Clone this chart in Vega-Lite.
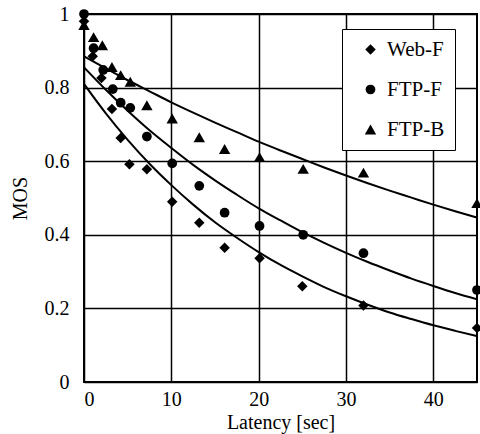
{
  "$schema": "https://vega.github.io/schema/vega-lite/v6.json",
  "autosize": {"type": "none"},
  "width": 393,
  "height": 368,
  "padding": {"left": 84, "top": 14, "right": 3, "bottom": 52},
  "background": "white",
  "config": {
    "font": "Liberation Serif",
    "view": {"stroke": "black", "strokeWidth": 2},
    "axis": {
      "grid": true,
      "gridColor": "black",
      "gridWidth": 1.5,
      "gridOpacity": 1,
      "domain": false,
      "ticks": false,
      "labelFont": "Liberation Serif",
      "labelFontSize": 20,
      "labelColor": "black",
      "titleFont": "Liberation Serif",
      "titleFontSize": 20,
      "titleFontWeight": "normal",
      "titleColor": "black"
    },
    "legend": {
      "orient": "none",
      "legendX": 258,
      "legendY": 15,
      "fillColor": "white",
      "strokeColor": "black",
      "padding": 10,
      "rowPadding": 18,
      "symbolOffset": 8,
      "labelOffset": 6,
      "labelFontSize": 21,
      "labelFont": "Liberation Serif",
      "labelColor": "black",
      "symbolFillColor": "black",
      "symbolStrokeColor": "black"
    }
  },
  "datasets": {
    "points": [
      {"latency": 0, "mos": 0.98, "series": "Web-F"},
      {"latency": 1, "mos": 0.885, "series": "Web-F"},
      {"latency": 2, "mos": 0.826, "series": "Web-F"},
      {"latency": 3.2, "mos": 0.742, "series": "Web-F"},
      {"latency": 4.2, "mos": 0.663, "series": "Web-F"},
      {"latency": 5.2, "mos": 0.592, "series": "Web-F"},
      {"latency": 7.2, "mos": 0.578, "series": "Web-F"},
      {"latency": 10.1, "mos": 0.49, "series": "Web-F"},
      {"latency": 13.2, "mos": 0.433, "series": "Web-F"},
      {"latency": 16.1, "mos": 0.365, "series": "Web-F"},
      {"latency": 20.1, "mos": 0.336, "series": "Web-F"},
      {"latency": 25, "mos": 0.26, "series": "Web-F"},
      {"latency": 32, "mos": 0.208, "series": "Web-F"},
      {"latency": 45, "mos": 0.147, "series": "Web-F"},
      {"latency": 0, "mos": 1.0, "series": "FTP-F"},
      {"latency": 1.1, "mos": 0.907, "series": "FTP-F"},
      {"latency": 2.2, "mos": 0.848, "series": "FTP-F"},
      {"latency": 3.3, "mos": 0.796, "series": "FTP-F"},
      {"latency": 4.2, "mos": 0.759, "series": "FTP-F"},
      {"latency": 5.3, "mos": 0.745, "series": "FTP-F"},
      {"latency": 7.2, "mos": 0.667, "series": "FTP-F"},
      {"latency": 10.1, "mos": 0.594, "series": "FTP-F"},
      {"latency": 13.2, "mos": 0.533, "series": "FTP-F"},
      {"latency": 16.1, "mos": 0.46, "series": "FTP-F"},
      {"latency": 20.1, "mos": 0.424, "series": "FTP-F"},
      {"latency": 25.1, "mos": 0.4, "series": "FTP-F"},
      {"latency": 32, "mos": 0.35, "series": "FTP-F"},
      {"latency": 45, "mos": 0.25, "series": "FTP-F"},
      {"latency": 0, "mos": 0.97, "series": "FTP-B"},
      {"latency": 1.1, "mos": 0.937, "series": "FTP-B"},
      {"latency": 2.1, "mos": 0.915, "series": "FTP-B"},
      {"latency": 3.2, "mos": 0.856, "series": "FTP-B"},
      {"latency": 4.2, "mos": 0.834, "series": "FTP-B"},
      {"latency": 5.3, "mos": 0.816, "series": "FTP-B"},
      {"latency": 7.2, "mos": 0.752, "series": "FTP-B"},
      {"latency": 10.1, "mos": 0.716, "series": "FTP-B"},
      {"latency": 13.2, "mos": 0.665, "series": "FTP-B"},
      {"latency": 16.1, "mos": 0.633, "series": "FTP-B"},
      {"latency": 20.1, "mos": 0.611, "series": "FTP-B"},
      {"latency": 25.1, "mos": 0.579, "series": "FTP-B"},
      {"latency": 32, "mos": 0.569, "series": "FTP-B"},
      {"latency": 45, "mos": 0.486, "series": "FTP-B"}
    ],
    "curves": [
      {"latency": 0, "mos": 0.81, "series": "Web-F"},
      {"latency": 2.5, "mos": 0.73, "series": "Web-F"},
      {"latency": 5, "mos": 0.658, "series": "Web-F"},
      {"latency": 7.5, "mos": 0.593, "series": "Web-F"},
      {"latency": 10, "mos": 0.535, "series": "Web-F"},
      {"latency": 12.5, "mos": 0.482, "series": "Web-F"},
      {"latency": 15, "mos": 0.434, "series": "Web-F"},
      {"latency": 17.5, "mos": 0.392, "series": "Web-F"},
      {"latency": 20, "mos": 0.353, "series": "Web-F"},
      {"latency": 22.5, "mos": 0.318, "series": "Web-F"},
      {"latency": 25, "mos": 0.287, "series": "Web-F"},
      {"latency": 27.5, "mos": 0.258, "series": "Web-F"},
      {"latency": 30, "mos": 0.233, "series": "Web-F"},
      {"latency": 32.5, "mos": 0.21, "series": "Web-F"},
      {"latency": 35, "mos": 0.189, "series": "Web-F"},
      {"latency": 37.5, "mos": 0.171, "series": "Web-F"},
      {"latency": 40, "mos": 0.154, "series": "Web-F"},
      {"latency": 42.5, "mos": 0.139, "series": "Web-F"},
      {"latency": 45, "mos": 0.125, "series": "Web-F"},
      {"latency": 0, "mos": 0.855, "series": "FTP-F"},
      {"latency": 2.5, "mos": 0.794, "series": "FTP-F"},
      {"latency": 5, "mos": 0.737, "series": "FTP-F"},
      {"latency": 7.5, "mos": 0.684, "series": "FTP-F"},
      {"latency": 10, "mos": 0.636, "series": "FTP-F"},
      {"latency": 12.5, "mos": 0.59, "series": "FTP-F"},
      {"latency": 15, "mos": 0.548, "series": "FTP-F"},
      {"latency": 17.5, "mos": 0.509, "series": "FTP-F"},
      {"latency": 20, "mos": 0.472, "series": "FTP-F"},
      {"latency": 22.5, "mos": 0.439, "series": "FTP-F"},
      {"latency": 25, "mos": 0.407, "series": "FTP-F"},
      {"latency": 27.5, "mos": 0.378, "series": "FTP-F"},
      {"latency": 30, "mos": 0.351, "series": "FTP-F"},
      {"latency": 32.5, "mos": 0.326, "series": "FTP-F"},
      {"latency": 35, "mos": 0.303, "series": "FTP-F"},
      {"latency": 37.5, "mos": 0.281, "series": "FTP-F"},
      {"latency": 40, "mos": 0.261, "series": "FTP-F"},
      {"latency": 42.5, "mos": 0.242, "series": "FTP-F"},
      {"latency": 45, "mos": 0.225, "series": "FTP-F"},
      {"latency": 0, "mos": 0.885, "series": "FTP-B"},
      {"latency": 2.5, "mos": 0.852, "series": "FTP-B"},
      {"latency": 5, "mos": 0.82, "series": "FTP-B"},
      {"latency": 7.5, "mos": 0.79, "series": "FTP-B"},
      {"latency": 10, "mos": 0.76, "series": "FTP-B"},
      {"latency": 12.5, "mos": 0.732, "series": "FTP-B"},
      {"latency": 15, "mos": 0.705, "series": "FTP-B"},
      {"latency": 17.5, "mos": 0.679, "series": "FTP-B"},
      {"latency": 20, "mos": 0.653, "series": "FTP-B"},
      {"latency": 22.5, "mos": 0.629, "series": "FTP-B"},
      {"latency": 25, "mos": 0.606, "series": "FTP-B"},
      {"latency": 27.5, "mos": 0.583, "series": "FTP-B"},
      {"latency": 30, "mos": 0.561, "series": "FTP-B"},
      {"latency": 32.5, "mos": 0.54, "series": "FTP-B"},
      {"latency": 35, "mos": 0.52, "series": "FTP-B"},
      {"latency": 37.5, "mos": 0.501, "series": "FTP-B"},
      {"latency": 40, "mos": 0.482, "series": "FTP-B"},
      {"latency": 42.5, "mos": 0.464, "series": "FTP-B"},
      {"latency": 45, "mos": 0.447, "series": "FTP-B"}
    ]
  },
  "encoding": {
    "x": {
      "field": "latency",
      "type": "quantitative",
      "scale": {"domain": [0, 45], "nice": false, "zero": false},
      "axis": {"values": [0, 10, 20, 30, 40], "title": "Latency [sec]", "labelPadding": 7, "titlePadding": 3}
    },
    "y": {
      "field": "mos",
      "type": "quantitative",
      "scale": {"domain": [0, 1], "nice": false},
      "axis": {"values": [0, 0.2, 0.4, 0.6, 0.8, 1], "format": "~g", "title": "MOS", "labelPadding": 15, "titlePadding": 14}
    }
  },
  "layer": [
    {
      "data": {"name": "curves"},
      "mark": {"type": "line", "color": "black", "strokeWidth": 2, "interpolate": "monotone", "clip": true},
      "encoding": {"detail": {"field": "series"}}
    },
    {
      "data": {"name": "points"},
      "mark": {"type": "point", "filled": true, "opacity": 1, "color": "black", "clip": false},
      "encoding": {
        "size": {
          "field": "series",
          "type": "nominal",
          "scale": {"type": "ordinal", "domain": ["Web-F", "FTP-F", "FTP-B"], "range": [110, 95, 130]},
          "legend": {"title": null}
        },
        "shape": {
          "field": "series",
          "type": "nominal",
          "scale": {"domain": ["Web-F", "FTP-F", "FTP-B"], "range": ["diamond", "circle", "triangle-up"]},
          "legend": {"title": null}
        }
      }
    }
  ]
}
